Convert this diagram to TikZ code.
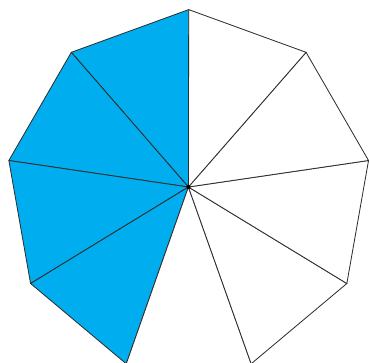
\documentclass[tikz,border=0pt]{standalone}
\usetikzlibrary{calc}
\definecolor{palcyan}{RGB}{0,174,239}
\definecolor{paledge}{RGB}{45,45,45}
\tikzset{
  wedge/.style={
    draw=paledge,
    line width=0.7pt,
    line join=round
  },
  shadedwedge/.style={wedge, fill=palcyan},
  plainwedge/.style={wedge, fill=white},
  hub/.style={circle, fill=black, inner sep=0pt, minimum size=3.5pt}
}
\begin{document}
\begin{tikzpicture}[x=0.03cm, y=0.03cm]
        \useasboundingbox (0,-362) rectangle (369,0);
        \clip (0,-362) rectangle (369,0);
        \coordinate (m) at (188.7,-192.2);
        \coordinate (c) at (188.4,-187);
        \foreach \i in {0,...,8}
          \coordinate (v\i) at ($(m)+({90+40*\i}:182.6)$);

        % four shaded parts on the left
        \foreach \i/\j in {0/1,1/2,2/3,3/4}
          \draw[shadedwedge] (c) -- (v\i) -- (v\j) -- cycle;
        \foreach \i/\j in {4/5,5/6,6/7,7/8,8/0}
          \draw[plainwedge] (c) -- (v\i) -- (v\j) -- cycle;

        \node[hub] (centre) at (c) {};
      \end{tikzpicture}
\end{document}
